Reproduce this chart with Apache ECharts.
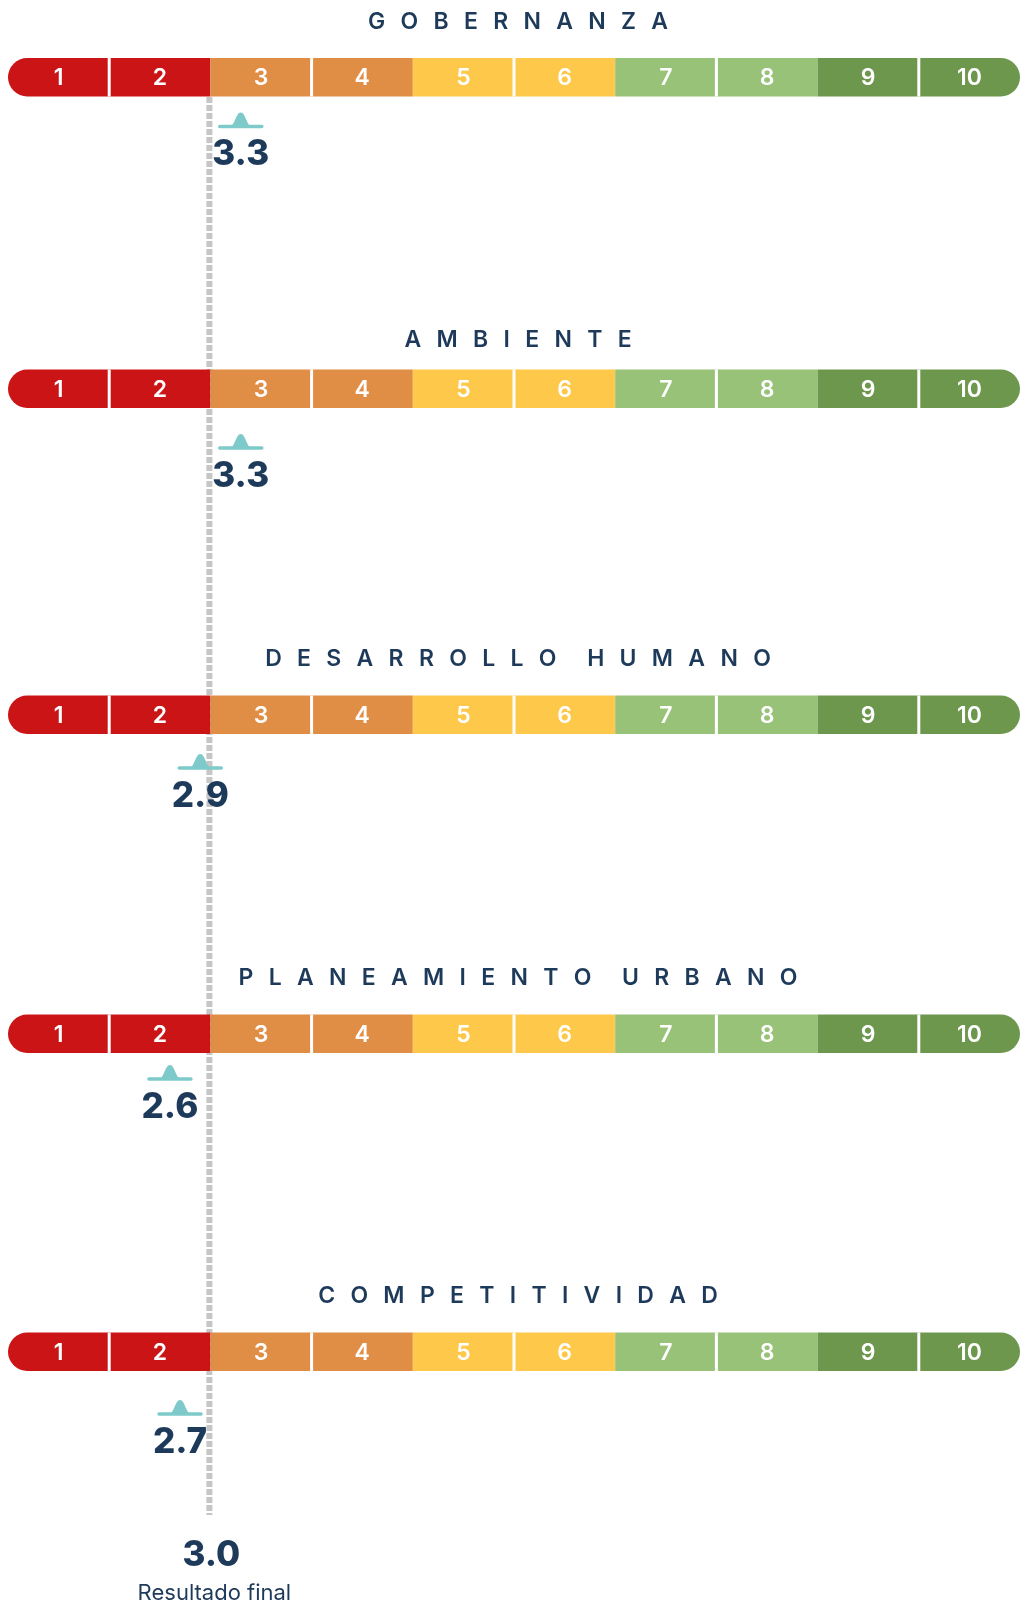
<!DOCTYPE html>
<html><head><meta charset="utf-8">
<script src="https://cdn.jsdelivr.net/npm/echarts@6/dist/echarts.min.js"></script>
<style>html,body{margin:0;padding:0;background:#fff}#c{width:1020px;height:1602px}</style>
</head><body><div id="c"></div>
<script>
// ---- data ----
const categories = ['GOBERNANZA', 'AMBIENTE', 'DESARROLLO HUMANO', 'PLANEAMIENTO URBANO', 'COMPETITIVIDAD'];
const scores = [3.3, 3.3, 2.9, 2.6, 2.7];
const scaleLabels = ['1', '2', '3', '4', '5', '6', '7', '8', '9', '10'];
const finalScore = 3.0;
const finalLabel = 'Resultado final';

// ---- styles / layout ----
const bandColors = ['#cb1416', '#cb1416', '#e08d46', '#e08d46', '#fec84a', '#fec84a', '#97c277', '#97c277', '#6c974d', '#6c974d'];
const NAVY = '#1e3a5a', TEAL = '#7ecacb', FONT = 'Inter, "Noto Sans", sans-serif';
const barTops = [58, 369.5, 695.5, 1014.5, 1332.5];
const barH = 38.5;
const markerGaps = [30, 40, 34, 26, 43];
const titleGaps = [36, 29.5, 36, 36, 36.5];
const AX_L = 8, AX_R = 0;
const SEP = '\u2002\u2009';
function spaced(t) { return t.split(' ').map(w => w.split('').join(SEP)).join(SEP + '\u2002\u2009'); }

const grids = [], xAxes = [], yAxes = [], series = [];
categories.forEach((cat, i) => {
  grids.push({ left: AX_L, right: AX_R, top: barTops[i], height: barH });
  xAxes.push({ gridIndex: i, type: 'value', min: 1, max: 11, show: false });
  yAxes.push({ gridIndex: i, type: 'value', min: 0, max: 1, show: false });
  series.push({
    type: 'custom', xAxisIndex: i, yAxisIndex: i, z: 3, silent: true,
    data: scaleLabels.map((l, k) => [k + 1, k + 2, l]),
    renderItem: (params, api) => {
      const k = params.dataIndex;
      const p0 = api.coord([api.value(0), 1]);
      const p1 = api.coord([api.value(1), 0]);
      const w = p1[0] - p0[0], h = p1[1] - p0[1];
      const r = h / 2;
      const children = [
        { type: 'rect', shape: { x: p0[0], y: p0[1], width: w, height: h, r: k === 0 ? [r, 0, 0, r] : (k === scaleLabels.length - 1 ? [0, r, r, 0] : 0) }, style: { fill: bandColors[k] } },
        { type: 'text', x: p0[0] + w / 2, y: p0[1] + h / 2 + 1, style: { text: scaleLabels[k], fill: '#fff', font: '600 23px ' + FONT, align: 'center', verticalAlign: 'middle' } }
      ];
      if (k % 2 === 1) children.push({ type: 'rect', shape: { x: p0[0] - 1.5, y: p0[1], width: 3, height: h }, style: { fill: '#fff' } });
      return { type: 'group', children };
    }
  });
  series.push({
    type: 'custom', xAxisIndex: i, yAxisIndex: i, z: 4, silent: true,
    data: [[scores[i]]],
    renderItem: (params, api) => {
      const v = api.value(0);
      const p = api.coord([v, 0]);
      const ly = p[1] + markerGaps[i];
      const mid = api.coord([6, 1]);
      return { type: 'group', children: [
        { type: 'line', shape: { x1: p[0] - 21, y1: ly, x2: p[0] + 21, y2: ly }, style: { stroke: TEAL, lineWidth: 3.5, lineCap: 'round' } },
        { type: 'path', shape: { pathData: 'M0 14 C5 14 6 0 11 0 C16 0 17 14 22 14 Z', x: p[0] - 11, y: ly - 14, width: 22, height: 14, layout: 'cover' }, style: { fill: TEAL } },
        { type: 'text', x: p[0], y: ly + 28, style: { text: v.toFixed(1), fill: NAVY, font: '800 35px ' + FONT, align: 'center', verticalAlign: 'middle' } },
        { type: 'text', x: mid[0] + 4, y: mid[1] - titleGaps[i], style: { text: spaced(cat), fill: NAVY, font: '600 23px ' + FONT, align: 'center', verticalAlign: 'middle' } }
      ] };
    }
  });
});

// overall grid for the final-result reference line
const G = categories.length;
grids.push({ left: AX_L, right: AX_R, top: 97, bottom: 87 });
xAxes.push({ gridIndex: G, type: 'value', min: 1, max: 11, show: false });
yAxes.push({ gridIndex: G, type: 'value', min: 0, max: 1, show: false });
series.push({
  type: 'custom', xAxisIndex: G, yAxisIndex: G, z: 1, silent: true,
  data: [[finalScore]],
  renderItem: (params, api) => {
    const v = api.value(0);
    const pt = api.coord([v, 1]), pb = api.coord([v, 0]);
    const x = pt[0] - 1;
    return { type: 'group', children: [
      { type: 'line', shape: { x1: x, y1: pt[1], x2: x, y2: pb[1] }, style: { stroke: '#c6c6c6', lineWidth: 6, lineDash: [6, 2] } },
      { type: 'text', x: x + 2, y: pb[1] + 40, style: { text: v.toFixed(1), fill: NAVY, font: '800 35px ' + FONT, align: 'center', verticalAlign: 'middle' } },
      { type: 'text', x: x + 5, y: pb[1] + 78, style: { text: finalLabel, fill: NAVY, font: '400 22px ' + FONT, align: 'center', verticalAlign: 'middle' } }
    ] };
  }
});

const chart = echarts.init(document.getElementById('c'), null, { renderer: 'canvas' });
chart.setOption({ animation: false, backgroundColor: '#fff', grid: grids, xAxis: xAxes, yAxis: yAxes, series });
</script></body></html>
